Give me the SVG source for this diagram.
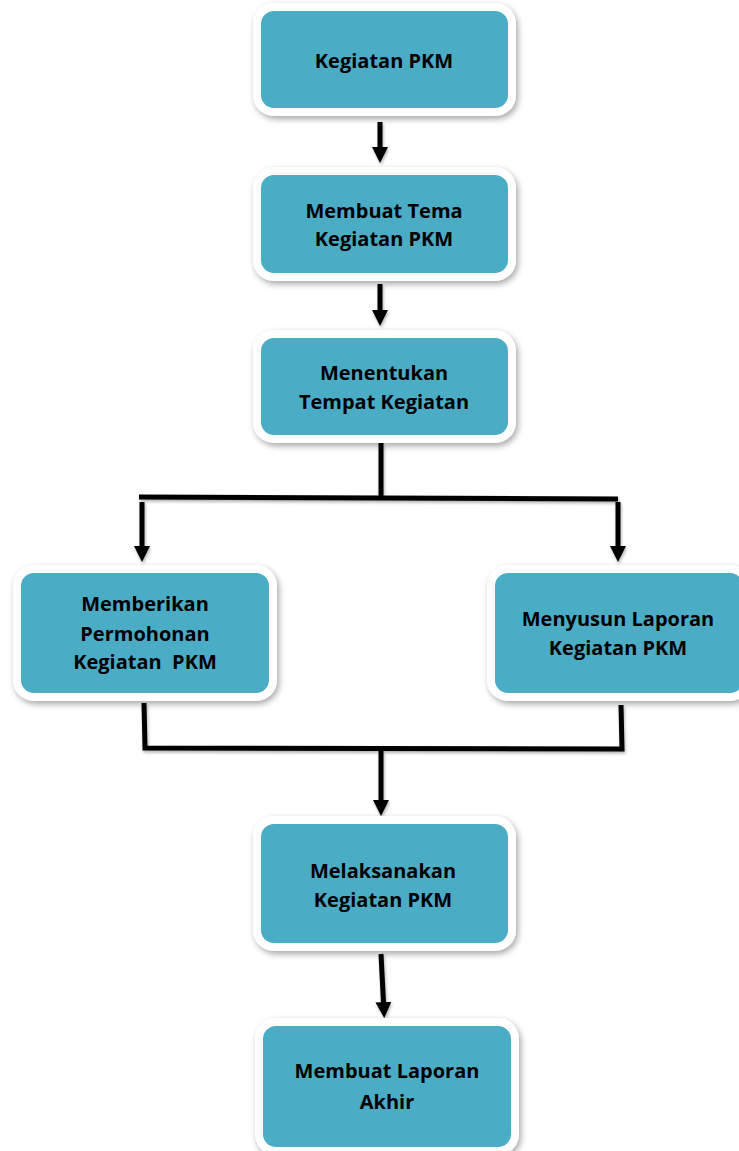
<svg xmlns="http://www.w3.org/2000/svg" width="739" height="1151" viewBox="0 0 739 1151">
  <defs>
    <filter id="sh" x="-10%" y="-10%" width="125%" height="130%">
      <feDropShadow dx="2" dy="3" stdDeviation="3" flood-color="#000" flood-opacity="0.35"/>
    </filter>
    <filter id="lsh" x="-20%" y="-20%" width="140%" height="140%">
      <feDropShadow dx="1" dy="2" stdDeviation="1.5" flood-color="#000" flood-opacity="0.3"/>
    </filter>
    <marker id="ah" viewBox="0 0 16 16" refX="1" refY="8" markerWidth="16" markerHeight="16" markerUnits="userSpaceOnUse" orient="auto">
      <path d="M0,0 L16,8 L0,16 z" fill="#000"/>
    </marker>
    <style>
      .box { fill: #4BACC6; stroke: #FFFFFF; stroke-width: 8; filter: url(#sh); }
      .t { font-family: "Open Sans", "Liberation Sans", sans-serif; font-weight: 700; font-size: 20px; fill: #000; text-anchor: middle; }
      .ln { stroke: #000; stroke-width: 5; fill: none; }
      .ar { stroke: #000; stroke-width: 5; fill: none; marker-end: url(#ah); }
    </style>
  </defs>
  <rect width="739" height="1151" fill="#FFFFFF"/>

  <g id="connectors" filter="url(#lsh)">
    <line class="ar" x1="380" y1="122" x2="380" y2="148"/>
    <line class="ar" x1="380" y1="284" x2="380" y2="311"/>
    <line class="ln" x1="381" y1="443" x2="381" y2="498"/>
    <polyline class="ln" points="139,497 381,498 618,499"/>
    <line class="ar" x1="142" y1="502" x2="142" y2="547"/>
    <line class="ar" x1="618" y1="502" x2="618" y2="547"/>
    <polyline class="ln" points="144,703 145,748 622,749 621,705"/>
    <line class="ar" x1="381" y1="751" x2="381" y2="801"/>
    <line class="ar" x1="381" y1="954" x2="383.5" y2="1003"/>
  </g>

  <g id="n1">
    <rect class="box" x="257" y="7" width="255" height="105" rx="17"/>
    <text class="t" x="384" y="68">Kegiatan PKM</text>
  </g>
  <g id="n2">
    <rect class="box" x="257" y="171" width="255" height="106" rx="17"/>
    <text class="t" x="384" y="218">Membuat Tema</text>
    <text class="t" x="384" y="246">Kegiatan PKM</text>
  </g>
  <g id="n3">
    <rect class="box" x="257" y="334" width="255" height="105" rx="17"/>
    <text class="t" x="384" y="380">Menentukan</text>
    <text class="t" x="384" y="409">Tempat Kegiatan</text>
  </g>
  <g id="n4">
    <rect class="box" x="17" y="569" width="256" height="128" rx="17"/>
    <text class="t" x="145" y="611">Memberikan</text>
    <text class="t" x="145" y="641">Permohonan</text>
    <text class="t" x="145" y="669" xml:space="preserve">Kegiatan  PKM</text>
  </g>
  <g id="n5">
    <rect class="box" x="491" y="569" width="256" height="128" rx="17"/>
    <text class="t" x="618" y="626">Menyusun Laporan</text>
    <text class="t" x="618" y="655">Kegiatan PKM</text>
  </g>
  <g id="n6">
    <rect class="box" x="257" y="820" width="255" height="127" rx="17"/>
    <text class="t" x="383" y="878">Melaksanakan</text>
    <text class="t" x="383" y="907">Kegiatan PKM</text>
  </g>
  <g id="n7">
    <rect class="box" x="259" y="1022" width="256" height="129" rx="17"/>
    <text class="t" x="387" y="1078">Membuat Laporan</text>
    <text class="t" x="387" y="1109">Akhir</text>
  </g>
</svg>
